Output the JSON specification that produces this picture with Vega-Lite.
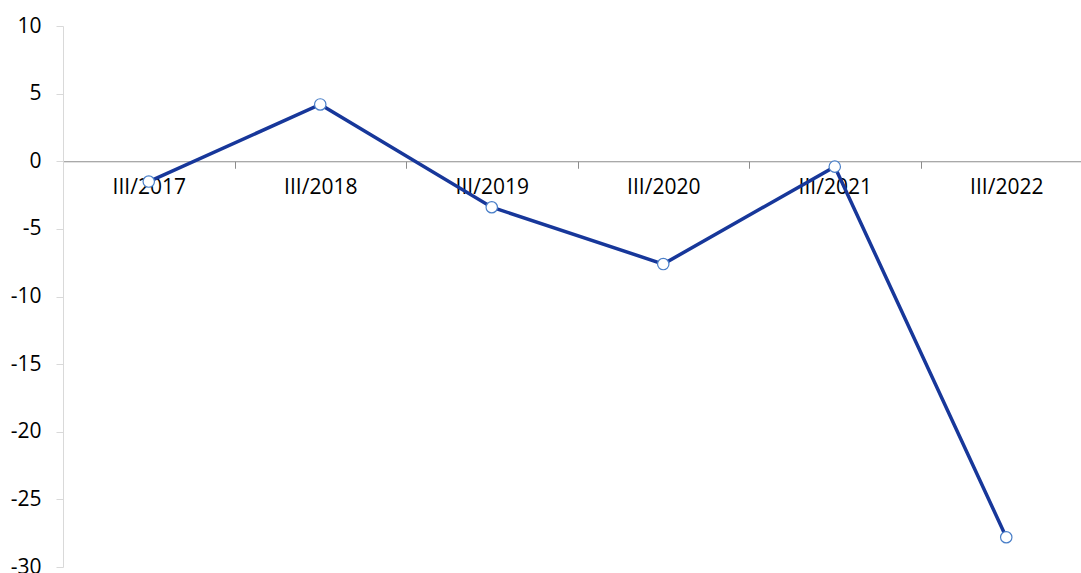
{
  "$schema": "https://vega.github.io/schema/vega-lite/v6.json",
  "autosize": "none",
  "padding": {"left": 63, "top": 26, "right": 0, "bottom": 6},
  "width": 1029,
  "height": 541,
  "background": "white",
  "config": {"view": {"stroke": null}, "font": "Open Sans"},
  "data": {"values": [
    {"period": "III/2017", "value": -1.5},
    {"period": "III/2018", "value": 4.2},
    {"period": "III/2019", "value": -3.4},
    {"period": "III/2020", "value": -7.6},
    {"period": "III/2021", "value": -0.4},
    {"period": "III/2022", "value": -27.8}
  ]},
  "encoding": {
    "x": {"field": "period", "type": "nominal", "sort": null,
      "scale": {"type": "band", "paddingInner": 0, "paddingOuter": 0},
      "axis": {"title": null, "orient": "bottom", "offset": -405.75, "labelAngle": 0,
        "labelFontSize": 21, "labelColor": "#000000", "labelFont": "Open Sans",
        "labelPadding": 8, "domainColor": "#8c8c8c", "domainWidth": 1,
        "tickColor": "#8c8c8c", "tickSize": 7, "tickBand": "extent", "grid": false, "zindex": 0}},
    "y": {"field": "value", "type": "quantitative",
      "scale": {"domain": [-30, 10], "nice": false, "zero": false},
      "axis": {"title": null, "values": [-30, -25, -20, -15, -10, -5, 0, 5, 10],
        "labelExpr": "'' + datum.value",
        "labelFontSize": 21, "labelColor": "#000000", "labelFont": "Open Sans",
        "labelPadding": 15, "domainColor": "#d9d9d9", "tickColor": "#d9d9d9",
        "tickSize": 7, "grid": false}}
  },
  "layer": [
    {"mark": {"type": "line", "color": "#17379a", "strokeWidth": 3.5}},
    {"mark": {"type": "point", "filled": false, "fill": "white", "fillOpacity": 1, "stroke": "#4a7fc8", "strokeWidth": 1.2, "size": 130, "opacity": 1}}
  ]
}
